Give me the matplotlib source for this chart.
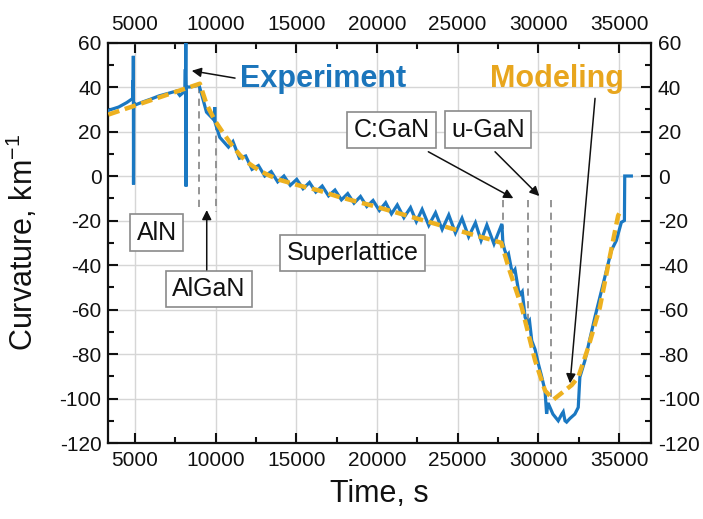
import matplotlib
matplotlib.use('Agg')
import matplotlib.pyplot as plt
from matplotlib.ticker import MultipleLocator

plt.rcParams['font.family'] = ['Liberation Sans', 'DejaVu Sans']
plt.rcParams['axes.unicode_minus'] = False
plt.rcParams['mathtext.default'] = 'regular'

# ---------------- data ----------------
exp_time = [3360, 4000, 4500, 4800, 4880, 4890, 4900, 4910, 4920, 4935, 5050, 5500,
            6000, 6500, 7000, 7580, 7790, 8000, 8100, 8130, 8145, 8160, 8175, 8190,
            8400, 8980, 9130, 9440, 9840, 9930, 9950, 9975, 10260,
            10800, 11080, 11480, 11870, 12260, 12660, 13050, 13450, 13850, 14240,
            14630, 15030, 15420, 15820, 16210, 16610, 17000, 17400, 17800, 18190,
            18580, 18980, 19370, 19760, 20150, 20540, 20900, 21260, 21670, 22080,
            22440, 22800, 23210, 23630, 24040, 24450, 24860, 25270, 25680, 26100,
            26450, 26810, 27250, 27740, 27800, 27900, 28050, 28150, 28350, 28450,
            28550, 28770, 28900, 29000, 29180, 29350, 29450, 29590, 29800, 30000,
            30200, 30410, 30510, 30600, 30720, 30900, 31230, 31450, 31540, 31650,
            31750, 31950, 32260, 32470, 32570, 32880, 33500, 34115, 34520, 34830,
            35140, 35330, 35350, 35760]
exp_curv = [29.5, 31, 33, 34.5, 35, 43, 35, 54, -3.8, 33, 32, 33.3,
            34.6, 36, 37, 38.2, 36.2, 37.5, 38.4, 48, 39, 63, -4.7, 40,
            40, 40.8, 37, 28.7, 25.7, 25, 31, 24, 17.4,
            13, 15.5, 8, 9, 3, 4.7, 0, 2, -2.6, 0,
            -4.2, -1.5, -5.7, -2.9, -7.2, -4.5, -8.9, -6.3, -10.7, -7.9,
            -12.2, -9.2, -13.7, -11, -15.5, -12, -17, -13, -18.7, -14.2,
            -20.5, -15, -22.2, -16.5, -24, -17.5, -25.6, -19, -27.3, -21,
            -29, -22, -30.5, -21.5, -30, -33, -36, -35, -42.5, -43,
            -42, -51.5, -53, -52, -63.5, -66, -65, -74, -78, -84.4,
            -90, -96.4, -106.9, -102, -104, -107, -110, -107, -106, -110,
            -110.6, -109, -107, -104, -90.4, -83, -63.5, -45.5, -33.5, -29,
            -20.8, -20, 0, 0]

mod_time = [3360, 9030, 9440, 9950, 10460, 11000, 11500, 12000, 12700, 13300, 14000,
            15200, 16400, 17600, 18900, 19760, 21000, 22000, 23000, 24000, 25000,
            26000, 27000, 27700, 28150, 28970, 29800, 30410, 30930, 32060, 32470,
            33090, 33810, 34420, 34940, 35150]
mod_curv = [27.6, 41.5, 32.4, 25, 19.5, 14, 9.5, 6, 2.5, 0.3, -1.8,
            -4.3, -6.5, -9.3, -11.8, -13.4, -16, -18.1, -20.2, -22.3, -24.4,
            -26.5, -28.5, -30, -41, -59, -83, -96.4, -100.5, -94, -90.4,
            -77, -59, -36.5, -17.8, -15]

# layer boundary markers: (time, top, bottom)
marker_time = [8980, 10030, 27790, 29340, 30790]
marker_top = [40.5, 24, -10.8, -10.8, -10.8]
marker_bottom = [-16, -16, -24, -66, -100]

layer_labels = ['AlN', 'AlGaN', 'Superlattice', 'C:GaN', 'u-GaN']
layer_label_x = [6360, 9600, 18490, 20900, 26880]
layer_label_y = [-25.5, -50.8, -34.6, 20.7, 20.9]

x_major = [5000, 10000, 15000, 20000, 25000, 30000, 35000]
y_major = [-120, -100, -80, -60, -40, -20, 0, 20, 40, 60]

blue = '#1a78c2'
orange = '#EDB120'

fig = plt.figure(figsize=(7.03, 5.19), dpi=100)
ax = fig.add_axes([0.1541, 0.1464, 0.7720, 0.7717])

ax.set_xlim(3360, 36980)
ax.set_ylim(-120, 60)
ax.set_xticks(x_major)
ax.set_yticks(y_major)
ax.xaxis.set_minor_locator(MultipleLocator(2500))
ax.yaxis.set_minor_locator(MultipleLocator(10))
ax.grid(True, which='major', color='#d6d6d6', lw=1.0)
ax.set_axisbelow(True)

ax.tick_params(which='both', direction='in', top=True, right=True,
               labeltop=True, labelright=True, labelsize=15, width=1.5,
               colors='#111111')
ax.tick_params(which='major', length=7, pad=5)
ax.tick_params(axis='x', which='major', pad=6)
ax.tick_params(which='minor', length=4)
for sp in ax.spines.values():
    sp.set_linewidth(1.6)
    sp.set_color('#111111')

# layer boundary dashed lines
for xt, yt, yb in zip(marker_time, marker_top, marker_bottom):
    ax.plot([xt, xt], [yt, yb], color='#8c8c8c', lw=1.3,
            ls=(0, (4, 3)), zorder=2)

ax.plot(exp_time, exp_curv, color=blue, lw=2.3, zorder=3, solid_joinstyle='miter')
ax.plot(mod_time, mod_curv, color=orange, lw=3.2, ls=(0, (2.6, 1.3)),
        zorder=4, dash_capstyle='butt')

box = dict(boxstyle='square,pad=0.25', fc='white', ec='#8a8a8a', lw=1.2)
for lab, lx, ly in zip(layer_labels, layer_label_x, layer_label_y):
    ax.text(lx, ly, lab, fontsize=18, ha='center', va='center',
            color='#111111', bbox=box, zorder=6)

ax.text(11518, 40.1, 'Experiment', fontsize=22, fontweight='bold',
        color='#1b75bb', ha='left', va='baseline', zorder=6)
ax.text(27006, 40.1, 'Modeling', fontsize=22, fontweight='bold',
        color='#E8A61E', ha='left', va='baseline', zorder=6)

arr = dict(arrowstyle='-|>', color='#111111', lw=1.1, mutation_scale=14,
           shrinkA=0, shrinkB=0)
arrows = [((11209, 44.0), (8527, 47.3)),
          ((33511, 34.9), (31962, -93.2)),
          ((23184, 10.9), (28450, -10.0)),
          ((27316, 10.9), (30060, -9.0)),
          ((9456, -42.2), (9456, -15.3))]
for tail, head in arrows:
    ax.annotate('', xy=head, xytext=tail, arrowprops=arr, zorder=7)

ax.set_xlabel('Time, s', fontsize=22, color='#111111')
ax.set_ylabel('Curvature, km$^{-1}$', fontsize=22, color='#111111')
ax.xaxis.set_label_coords(0.5, -0.09)
ax.yaxis.set_label_coords(-0.125, 0.5)

fig.savefig('out.png', dpi=100, facecolor='white')
